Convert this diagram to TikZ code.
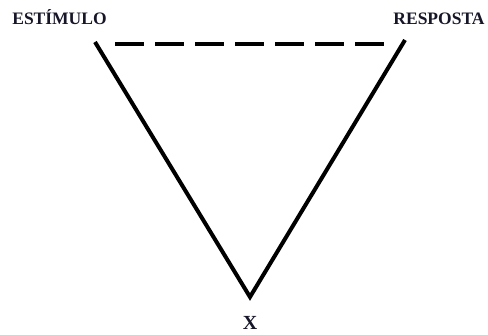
\documentclass[tikz,border=0pt]{standalone}
\usepackage{fontspec}
\setmainfont{Liberation Serif}
\definecolor{ink}{RGB}{22,22,40}
\begin{document}
\begin{tikzpicture}[x=1pt,y=1pt,
  side/.style={line width=4pt, line join=miter},
  dashline/.style={line width=4pt, dash pattern=on 29pt off 11pt},
  lbl/.style={font=\bfseries\fontsize{17.5}{17.5}\selectfont, text=ink, anchor=base, inner sep=0pt},
  xlbl/.style={font=\bfseries\fontsize{20}{20}\selectfont, text=ink, anchor=base, inner sep=0pt}]
\useasboundingbox (0,0) rectangle (488,335);
\coordinate (A) at (95,293);
\coordinate (B) at (405,295);
\coordinate (C) at (250,38);
\coordinate (D1) at (115,291);
\coordinate (D2) at (387,291);
\draw[side] (A) -- (C) -- (B);
\draw[dashline] (D1) -- (D2);
\node[lbl] (est) at (59.5,310) {ESTÍMULO};
\node[lbl] (resp) at (439,310) {RESPOSTA};
\node[xlbl] (x) at (250,5) {X};
\end{tikzpicture}
\end{document}
